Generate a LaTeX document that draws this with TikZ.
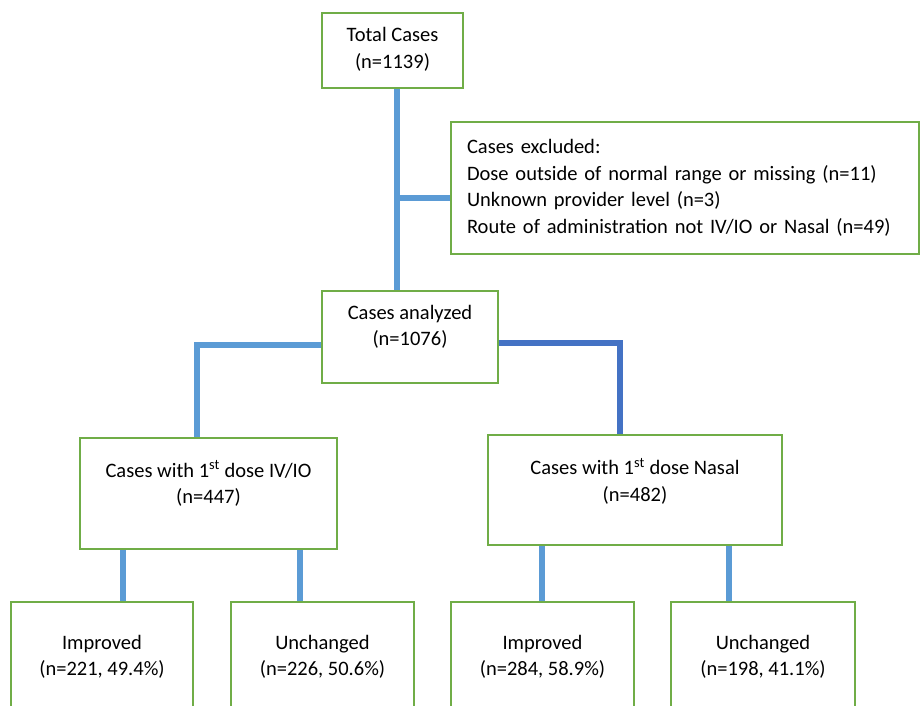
\documentclass[tikz,border=0pt]{standalone}
\usepackage{fontspec}
\setmainfont{Carlito}
\usetikzlibrary{positioning,calc}
\definecolor{boxgreen}{HTML}{70AD47}
\definecolor{lineblue}{HTML}{5B9BD5}
\definecolor{darkblue}{HTML}{4472C4}

\begin{document}
\begin{tikzpicture}[x=1pt,y=-1pt,
    box/.style={draw=boxgreen,line width=1.8pt,fill=white,inner sep=0pt},
    txt/.style={align=center,inner sep=0pt,font=\fontsize{20.5}{26.5}\selectfont},
    conn/.style={draw=lineblue,line width=6pt}]
    \useasboundingbox (0,0) rectangle (924,706);
    \clip (0,0) rectangle (924,706);

    % boxes
    \node[box,minimum width=141,minimum height=75,
        label={[txt,yshift=1pt]center:{Total Cases\\(n=1139)}}] (tot) at (392.5,50.5) {};
    \node[box,minimum width=468,minimum height=132,txt,align=left,
        text width=436,inner xsep=16pt] (exc) at (685,188)
        {Cases excluded:\\Dose outside of normal range or missing (n=11)\\
         Unknown provider level (n=3)\\Route of administration not IV/IO or Nasal (n=49)};
    \node[box,minimum width=176,minimum height=92,
        label={[txt,yshift=10pt]center:{Cases analyzed\\(n=1076)}}] (ana) at (410,337) {};
    \node[box,minimum width=257,minimum height=111,
        label={[txt,yshift=10pt]center:{Cases with 1\textsuperscript{st} dose IV/IO\\(n=447)}}] (ivio) at (208.5,493.5) {};
    \node[box,minimum width=294,minimum height=110,
        label={[txt,yshift=9pt]center:{Cases with 1\textsuperscript{st} dose Nasal\\(n=482)}}] (nasal) at (635,490) {};

    % outcomes
    \node[box,minimum width=182,minimum height=110,txt] (imp1) at (102,657) {Improved\\(n=221, 49.4\%)};
    \node[box,minimum width=183,minimum height=110,txt] (unc1) at (322.5,657) {Unchanged\\(n=226, 50.6\%)};
    \node[box,minimum width=183,minimum height=110,txt] (imp2) at (542.5,657) {Improved\\(n=284, 58.9\%)};
    \node[box,minimum width=184,minimum height=110,txt] (unc2) at (763,657) {Unchanged\\(n=198, 41.1\%)};

    % connectors
    \coordinate (trunk) at (397,0);
    \coordinate (lx) at (197,0);
    \coordinate (rx) at (620,0);
    \draw[conn] (tot.south -| trunk) -- (ana.north -| trunk);
    \coordinate (br) at ([yshift=-10pt]exc.west);
    \draw[conn] (br) -- (br -| trunk);
    \draw[conn] ([yshift=-8pt]ana.west) -| (lx |- ivio.north);
    \draw[conn,draw=darkblue] ([yshift=-6pt]ana.east) -| (rx |- nasal.north);

    \foreach \top/\leaf/\xx in {ivio/imp1/123,ivio/unc1/300,nasal/imp2/542,nasal/unc2/729} {
        \coordinate (bx) at (\xx,0);
        \draw[conn] (bx |- \top.south) -- (bx |- \leaf.north);
    }
\end{tikzpicture}
\end{document}
